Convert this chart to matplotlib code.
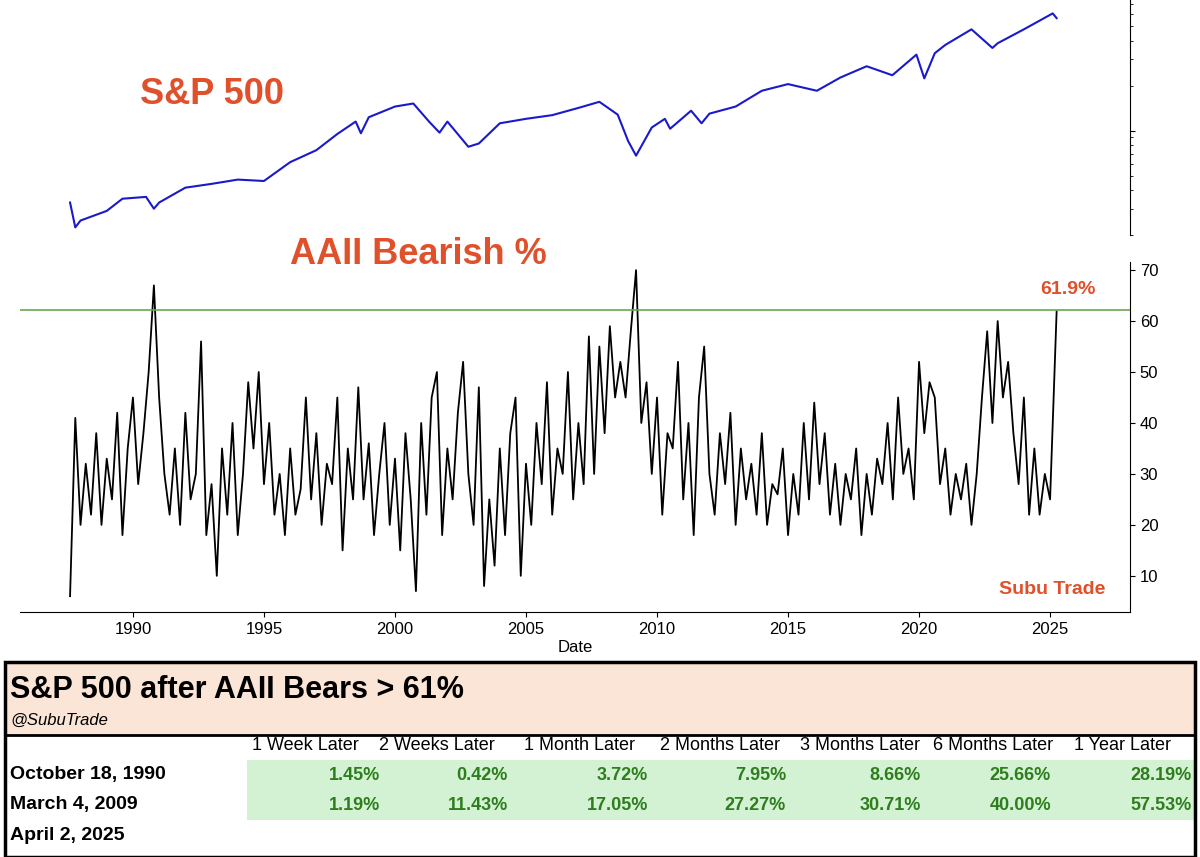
import numpy as np
import matplotlib
matplotlib.use("Agg")
import matplotlib.pyplot as plt
from matplotlib.patches import Rectangle

plt.rcParams['font.family'] = ['Liberation Sans', 'DejaVu Sans']

# S&P 500 (approximate levels)
sp_dates = [1987.6, 1987.8, 1988.0, 1989.0, 1989.6, 1990.5, 1990.8, 1991.0, 1992.0, 1993.0, 1994.0, 1995.0,
            1996.0, 1997.0, 1997.8, 1998.5, 1998.7, 1999.0, 2000.0, 2000.7, 2001.3, 2001.7, 2002.0, 2002.8,
            2003.2, 2004.0, 2005.0, 2006.0, 2007.0, 2007.8, 2008.5, 2008.9, 2009.2, 2009.8, 2010.3, 2010.5,
            2011.3, 2011.7, 2012.0, 2013.0, 2014.0, 2015.0, 2016.1, 2017.0, 2018.0, 2018.98, 2019.9, 2020.2,
            2020.6, 2021.0, 2022.0, 2022.8, 2023.0, 2024.0, 2025.1, 2025.25]
sp_vals = [330, 225, 250, 290, 350, 360, 300, 330, 415, 440, 470, 460,
           615, 740, 950, 1150, 960, 1230, 1450, 1520, 1150, 970, 1150, 780,
           820, 1120, 1200, 1270, 1420, 1560, 1280, 850, 680, 1050, 1200, 1030,
           1360, 1120, 1300, 1450, 1850, 2050, 1850, 2270, 2700, 2350, 3230, 2240,
           3300, 3750, 4770, 3580, 3850, 4770, 6100, 5670]

# AAII bearish %, five readings per year starting 1987.6 (step 0.2 yr)
bear_start = 1987.6
bear_main = [
    6, 41, 20, 32, 22,   38, 20, 33, 25, 42,   18, 35, 45, 28, 38,   50, 67, 45, 30, 22,
    35, 20, 42, 25, 30,  56, 18, 28, 10, 35,   22, 40, 18, 30, 48,   35, 50, 28, 40, 22,
    30, 18, 35, 22, 27,  45, 25, 38, 20, 32,   28, 45, 15, 35, 25,   47, 25, 36, 18, 30,
    40, 20, 33, 15, 38,  25, 7, 40, 22, 45,    50, 18, 35, 25, 42,   52, 30, 20, 47, 8,
    25, 12, 35, 18, 38,  45, 10, 32, 20, 40,   28, 48, 22, 35, 30,   50, 25, 40, 28, 57,
    30, 55, 38, 59, 45,  52, 45, 58, 70, 40,   48, 30, 45, 22, 38,   35, 52, 25, 40, 18,
    45, 55, 30, 22, 38,  28, 42, 20, 35, 25,   32, 22, 38, 20, 28,   26, 35, 18, 30, 22,
    40, 25, 44, 28, 38,  22, 32, 20, 30, 25,   35, 18, 30, 22, 33,   28, 40, 25, 45, 30,
    35, 25, 52, 38, 48,  45, 28, 35, 22, 30,   25, 32, 20, 30, 45,   58, 40, 60, 45, 52,
    38, 28, 45, 22, 35]
bear_tail_dates = [2024.6, 2024.8, 2025.0, 2025.1, 2025.18, 2025.25]
bear_tail_vals = [22, 30, 25, 40, 52, 61.9]
threshold = 62.2

cols = ["1 Week Later", "2 Weeks Later", "1 Month Later", "2 Months Later", "3 Months Later",
        "6 Months Later", "1 Year Later"]
rows = ["October 18, 1990", "March 4, 2009", "April 2, 2025"]
row1 = ["1.45%", "0.42%", "3.72%", "7.95%", "8.66%", "25.66%", "28.19%"]
row2 = ["1.19%", "11.43%", "17.05%", "27.27%", "30.71%", "40.00%", "57.53%"]

W, H = 1200, 857
fig = plt.figure(figsize=(12, 8.57), dpi=100)
def fx(x): return x / W
def fy(y): return 1 - y / H

xl = (1985.69, 2028.05)
red = '#e0502a'

# Top S&P axes
ax1 = fig.add_axes([fx(20), fy(235), fx(1110), fy(0) - fy(235)])
ax1.plot(sp_dates, sp_vals, color='#1a1acc', lw=1.5)
ax1.set_yscale('log')
ax1.set_ylim(200, 7500)
ax1.set_xlim(*xl)
for s in ['top', 'left', 'bottom']:
    ax1.spines[s].set_visible(False)
ax1.yaxis.tick_right()
ax1.tick_params(axis='y', which='both', labelright=False, labelleft=False)
ax1.set_xticks([])
fig.text(fx(212), fy(95), 'S&P 500', color=red, fontsize=26, fontweight='bold', ha='center', va='center')

# Bottom AAII axes
bd = bear_start + 0.2 * np.arange(len(bear_main))
bx = np.concatenate([bd, bear_tail_dates])
by = np.concatenate([bear_main, bear_tail_vals])
ax2 = fig.add_axes([fx(20), fy(612), fx(1110), fy(262) - fy(612)])
ax2.plot(bx, by, color='black', lw=1.3)
ax2.axhline(threshold, color='#6aa84f', lw=1.2)
ax2.set_xlim(*xl)
ax2.set_ylim(2.9, 71.6)
ax2.spines['top'].set_visible(False)
ax2.spines['left'].set_visible(False)
ax2.yaxis.tick_right()
ax2.set_yticks([10, 20, 30, 40, 50, 60, 70])
ax2.set_xticks([1990, 1995, 2000, 2005, 2010, 2015, 2020, 2025])
ax2.tick_params(labelsize=12)
ax2.set_xlabel('Date', fontsize=12, labelpad=2)
fig.text(fx(418), fy(255), 'AAII Bearish %', color=red, fontsize=26, fontweight='bold', ha='center', va='center')
fig.text(fx(1068), fy(290), '61.9%', color=red, fontsize=14, fontweight='bold', ha='center', va='center')
fig.text(fx(1052), fy(589), 'Subu Trade', color=red, fontsize=14, fontweight='bold', ha='center', va='center')

# Table
fig.patches.append(Rectangle((fx(5), fy(735)), fx(1190), fy(662) - fy(735), transform=fig.transFigure,
                             facecolor='#fbe5d6', edgecolor='none'))
fig.patches.append(Rectangle((fx(247), fy(820)), fx(948), fy(760) - fy(820), transform=fig.transFigure,
                             facecolor='#d3f2d3', edgecolor='none'))
fig.patches.append(Rectangle((fx(5), fy(857)), fx(1190), fy(662) - fy(857), transform=fig.transFigure,
                             facecolor='none', edgecolor='black', lw=2.5))
fig.add_artist(plt.Line2D([fx(5), fx(1195)], [fy(735), fy(735)], transform=fig.transFigure, color='black', lw=2))
fig.text(fx(10), fy(690), 'S&P 500 after AAII Bears > 61%', fontsize=22, fontweight='bold', va='center')
fig.text(fx(10), fy(720), '@SubuTrade', fontsize=12, style='italic', va='center')
col_c = [305, 437, 580, 720, 860, 993, 1123]
col_r = [380, 508, 648, 786, 921, 1051, 1192]
for c, x in zip(cols, col_c):
    fig.text(fx(x), fy(746), c, fontsize=13, ha='center', va='center')
for r, y in zip(rows, [775, 805, 835]):
    fig.text(fx(10), fy(y), r, fontsize=14, fontweight='bold', va='center')
for vals, y in [(row1, 775), (row2, 805)]:
    for v, x in zip(vals, col_r):
        fig.text(fx(x), fy(y), v, fontsize=13, fontweight='bold', color='#2e7d1e', ha='right', va='center')

fig.savefig('out.png', dpi=100)
